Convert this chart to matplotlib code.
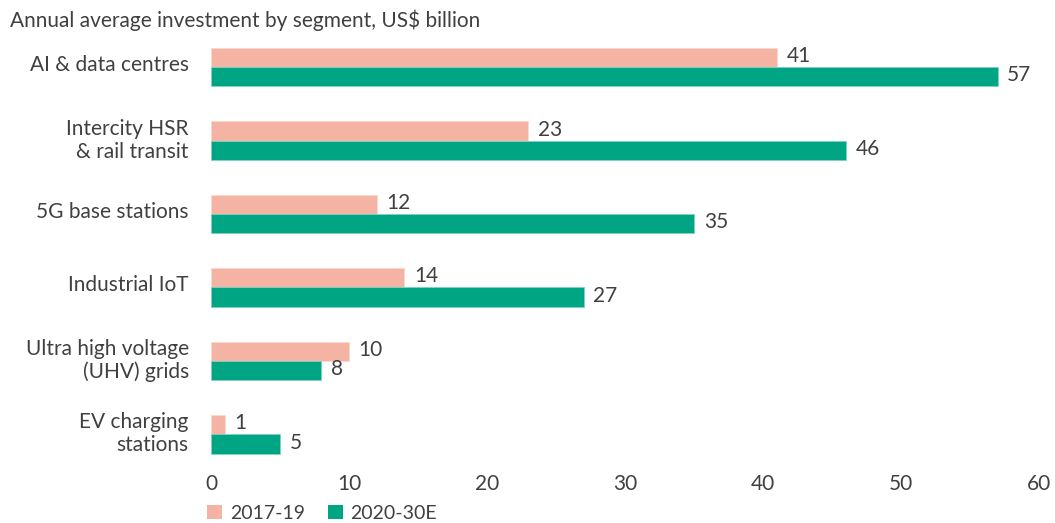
import matplotlib.pyplot as plt
import numpy as np
from matplotlib.patches import Patch
from matplotlib.transforms import ScaledTranslation

plt.rcParams["font.family"] = ["Lato", "DejaVu Sans"]

categories = [
    "AI & data centres",
    "Intercity HSR\n& rail transit",
    "5G base stations",
    "Industrial IoT",
    "Ultra high voltage\n(UHV) grids",
    "EV charging\nstations",
]
values_2017_19 = [41, 23, 12, 14, 10, 1]
values_2020_30 = [57, 46, 35, 27, 8, 5]
series_labels = ["2017-19", "2020-30E"]
x_ticks = [0, 10, 20, 30, 40, 50, 60]

PINK = "#F5B3A4"
GREEN = "#00A684"
TEXT = "#404040"
FS = 15

fig = plt.figure(figsize=(10.55, 5.23), dpi=100)
ax = fig.add_axes([0.2, 0.1205, 0.7848, 0.803])

y = np.arange(len(categories))
h = 0.263

bars_a = ax.barh(y - h / 2, values_2017_19, height=h, color=PINK,
                 edgecolor="#fbd8cf", linewidth=0.6)
bars_b = ax.barh(y + h / 2, values_2020_30, height=h, color=GREEN,
                 edgecolor="#7fd2c1", linewidth=0.6)

# value labels just past the end of each bar
for bars, vals in [(bars_a, values_2017_19), (bars_b, values_2020_30)]:
    for bar, v in zip(bars, vals):
        ax.annotate(str(v), (v, bar.get_y() + bar.get_height() / 2),
                    xytext=(7, 1), textcoords="offset points",
                    ha="left", va="center", fontsize=FS, color=TEXT)

ax.set_xlim(0, 60)
ax.set_ylim(5.35, -0.37)
ax.set_xticks(x_ticks)
ax.set_yticks(y)
ax.set_yticklabels(categories)
ax.tick_params(axis="both", length=0, labelsize=FS, labelcolor=TEXT)
ax.tick_params(axis="x", pad=10)
ax.tick_params(axis="y", pad=16)
# nudge category labels up a little
nudge = ScaledTranslation(0, 4 / 100, fig.dpi_scale_trans)
for lbl in ax.get_yticklabels():
    lbl.set_multialignment("right")
    lbl.set_transform(lbl.get_transform() + nudge)
for s in ax.spines.values():
    s.set_visible(False)

fig.text(0.0095, 0.962, "Annual average investment by segment, US$ billion",
         ha="left", va="center", fontsize=FS, color=TEXT)

handles = [Patch(facecolor=PINK), Patch(facecolor=GREEN)]
fig.legend(handles, series_labels, loc="center left",
           bbox_to_anchor=(0.18, 0.019), ncol=2, frameon=False,
           fontsize=14, labelcolor=TEXT, handlelength=0.75, handleheight=0.75,
           handletextpad=0.4, columnspacing=1.2)

fig.savefig("out.png", dpi=100)
